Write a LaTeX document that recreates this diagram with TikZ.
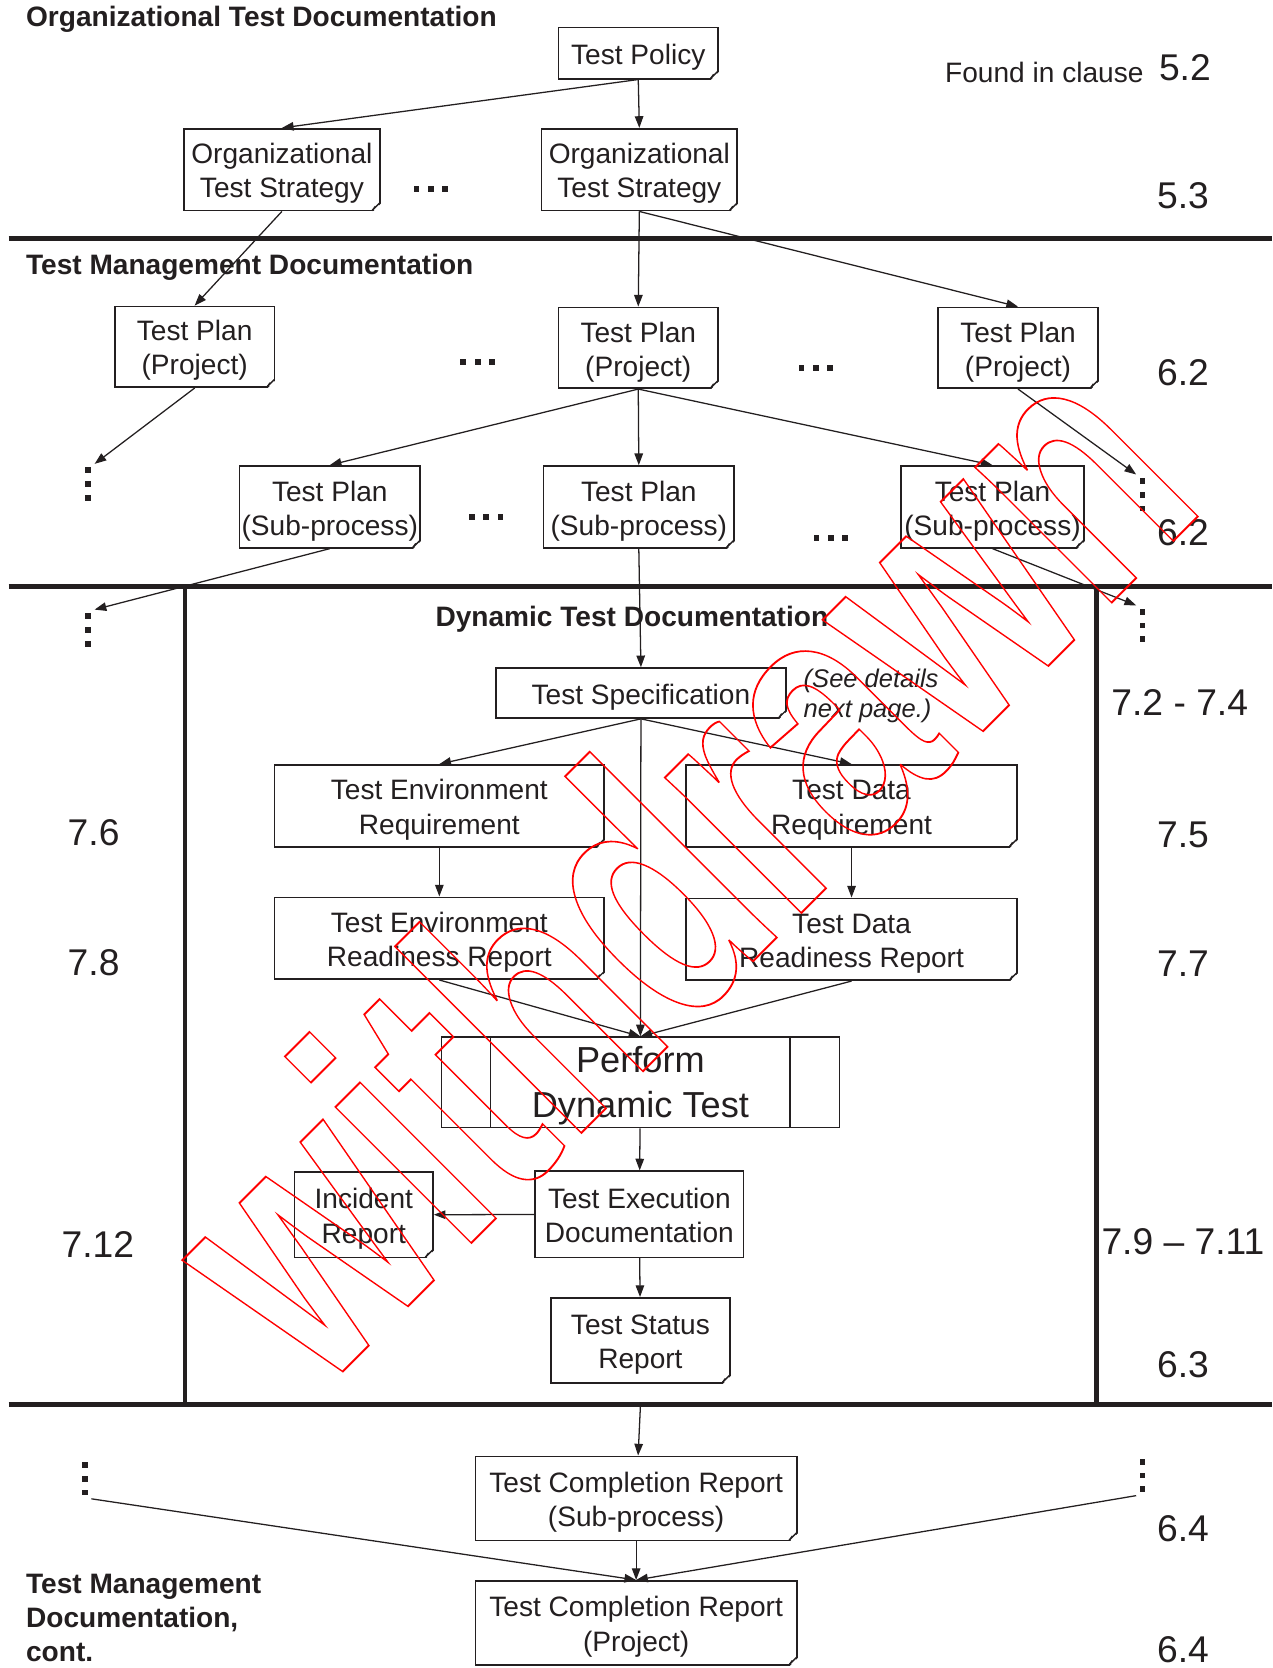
\documentclass[tikz,border=0pt]{standalone}
\usepackage{fontspec}
\setmainfont{Liberation Sans}
\usepackage{xcolor}
\definecolor{ink}{RGB}{35,31,32}
\definecolor{stampred}{RGB}{255,0,0}
\usetikzlibrary{arrows.meta,positioning}
\newcommand{\docfont}{\fontsize{26.4}{32}\selectfont}
\newcommand{\dotsq}{\rule{5.5pt}{5.5pt}}
\newcommand{\hdotrow}{\dotsq\hspace{8pt}\dotsq\hspace{8pt}\dotsq}
\newcommand{\vdotcol}{\dotsq\\\dotsq\\\dotsq}

\begin{document}
\begin{tikzpicture}[
  x=1pt, y=-1pt,
  box/.style={draw=ink, line width=1.5pt, text=ink, font=\docfont, align=center, inner sep=2pt, minimum height=77pt,
    text height=60pt, text depth=7pt},
  oneline/.style={text height=28pt},
  arrow/.style={-{Triangle[length=11pt,width=8pt]}, line width=1.2pt, color=ink},
  sepline/.style={line width=4.5pt, color=ink},
  heading/.style={font=\fontsize{26.4}{32}\selectfont\bfseries, text=ink, align=left},
  clause/.style={font=\fontsize{35}{40}\selectfont, text=ink},
  hdots/.style={font=\fontsize{5.5}{13}\selectfont, text=ink, inner sep=0pt},
  vdots/.style={font=\fontsize{5.5}{13}\selectfont, text=ink, align=center, inner sep=3pt},
  stamp/.style={font=\fontsize{342}{342}\selectfont\bfseries, text=stampred, anchor=base, rotate=45, xscale=0.7}
]
\useasboundingbox (0,0) rectangle (1196,1568);

% section rules
\draw[sepline] (8,224) -- (1196,224);
\draw[sepline] (8,551) -- (1196,551);
\draw[sepline] (8,1320) -- (1196,1320);
\draw[sepline] (174,551) -- (174,1320);
\draw[sepline] (1031,551) -- (1031,1320);

% organizational level
\node[heading, anchor=west] (orgtitle) at (21,18) {Organizational Test Documentation};
\node[box, oneline, minimum width=150pt, minimum height=48pt] (policy) at (600,50) {Test Policy};
\node[box, minimum width=184pt] (stratl) at (265,159.5) {Organizational\\Test Strategy};
\node[box, minimum width=184pt] (stratr) at (601,159.5) {Organizational\\Test Strategy};
\node[hdots] (hda) at (405,178) {\hdotrow};

% test management level
\node[heading, anchor=west] (mgmttitle) at (21,251) {Test Management Documentation};
\node[box, minimum width=150pt, minimum height=76pt] (plana) at (183,326) {Test Plan\\(Project)};
\node[box, minimum width=150pt, minimum height=76pt] (planb) at (600,327) {Test Plan\\(Project)};
\node[box, minimum width=150pt, minimum height=76pt] (planc) at (957,327) {Test Plan\\(Project)};
\node[hdots] (hdb) at (449,340) {\hdotrow};
\node[hdots] (hdc) at (767,346) {\hdotrow};

\node[box, minimum width=170pt] (suba) at (310,476.5) {Test Plan\\(Sub-process)};
\node[box, minimum width=179pt] (subb) at (600.5,476.5) {Test Plan\\(Sub-process)};
\node[box, minimum width=172pt] (subc) at (933,476.5) {Test Plan\\(Sub-process)};
\node[hdots] (hdd) at (457,486) {\hdotrow};
\node[hdots] (hde) at (781,506) {\hdotrow};

\node[vdots] (vdl1) at (83,455) {\vdotcol};
\node[vdots] (vdr1) at (1074,465) {\vdotcol};
\node[vdots] (vdl2) at (83,592) {\vdotcol};
\node[vdots] (vdr2) at (1074,588) {\vdotcol};

% dynamic test level
\node[heading] (dyntitle) at (594,582) {Dynamic Test Documentation};
\node[box, oneline, minimum width=273pt, minimum height=47pt] (spec) at (602.5,651.5) {Test Specification};
\node[text=ink, font=\fontsize{24}{28}\selectfont\itshape, align=left, anchor=west] (seenext) at (752,654) {(See details\\next page.)};
\node[box, minimum width=310pt] (envreq) at (413,757.5) {Test Environment\\Requirement};
\node[box, minimum width=311pt] (datareq) at (800.5,757.5) {Test Data\\Requirement};
\node[box, minimum width=310pt, below=46pt of envreq] (envrdy) {Test Environment\\Readiness Report};
\node[box, minimum width=311pt, below=47pt of datareq] (datardy) {Test Data\\Readiness Report};
\node[box, minimum width=374pt, minimum height=85pt, font=\fontsize{34}{42}\selectfont, text height=73pt] (perform) at (602,1017.5) {Perform\\Dynamic Test};
\draw[ink, line width=1.5pt] ([xshift=47pt]perform.north west) -- ([xshift=47pt]perform.south west);
\draw[ink, line width=1.5pt] ([xshift=-47pt]perform.north east) -- ([xshift=-47pt]perform.south east);
\node[box, minimum width=196pt, minimum height=81pt] (execdoc) at (601,1141.5) {Test Execution\\Documentation};
\node[box, minimum width=130pt, minimum height=80pt] (incident) at (342,1142) {Incident\\Report};
\node[box, minimum width=168pt, minimum height=80pt] (status) at (602,1260) {Test Status\\Report};

% completion reports
\coordinate (rulemid) at (602,1322);
\node[box, minimum width=302pt, minimum height=79pt] (compsub) at (598,1408.5) {Test Completion Report\\(Sub-process)};
\node[box, minimum width=302pt, minimum height=79pt] (compproj) at (598,1525.5) {Test Completion Report\\(Project)};
\node[vdots] (vdl3) at (80,1390) {\vdotcol};
\node[vdots] (vdr3) at (1074,1387) {\vdotcol};
\node[heading, anchor=west] (conttitle) at (21,1521) {Test Management\\Documentation,\\cont.};

% folded corners
\foreach \n in {policy,stratl,stratr,plana,planb,planc,suba,subb,subc,spec,envreq,datareq,envrdy,datardy,incident,status,compsub,compproj}{
  \fill[white] ([xshift=-8pt,yshift=-1pt]\n.south east) -- ([xshift=1pt,yshift=8pt]\n.south east) -- ([xshift=1pt,yshift=-1pt]\n.south east) -- cycle;
  \draw[ink, line width=1.3pt] ([xshift=-8pt,yshift=0.75pt]\n.south east) -- ([xshift=-0.75pt,yshift=8pt]\n.south east);
  \draw[ink, line width=1pt] ([xshift=-8pt,yshift=0.75pt]\n.south east) -- ([xshift=-5pt,yshift=5pt]\n.south east);
}

% clause numbers
\node[font=\fontsize{26.4}{32}\selectfont, text=ink, anchor=base west] (found) at (885,78) {Found in clause};
\node[clause, anchor=base west] (c52) at (1086,76) {5.2};
\node[clause] (c53) at (1112,184) {5.3};
\node[clause] (c62a) at (1112,350) {6.2};
\node[clause] (c62b) at (1112,501) {6.2};
\node[clause] (c72) at (1109,660) {7.2 - 7.4};
\node[clause] (c75) at (1112,785) {7.5};
\node[clause] (c77) at (1112,906) {7.7};
\node[clause] (c79) at (1112,1167) {7.9 -- 7.11};
\node[clause] (c63) at (1112,1283) {6.3};
\node[clause] (c64a) at (1112,1437) {6.4};
\node[clause] (c64b) at (1112,1551) {6.4};
\node[clause] (c76) at (88,783) {7.6};
\node[clause] (c78) at (88,905) {7.8};
\node[clause] (c712) at (92,1170) {7.12};

% connectors
\draw[arrow] (policy.south) -- (stratl.north);
\draw[arrow] (policy.south) -- (stratr.north);
\draw[arrow] (stratl.south) -- (plana.north);
\draw[arrow] (stratr.south) -- (planb.north);
\draw[arrow] (stratr.south) -- (planc.north);
\draw[arrow] (plana.south) -- (vdl1.north east);
\draw[arrow] (planb.south) -- (suba.north);
\draw[arrow] (planb.south) -- (subb.north);
\draw[arrow] (planb.south) -- (subc.north);
\draw[arrow] (planc.south) -- (vdr1.north west);
\draw[arrow] (suba.south) -- (vdl2.north east);
\draw[arrow] (subb.south) -- (spec.north);
\draw[arrow] (subc.south) -- (vdr2.north west);
\draw[arrow] (spec.south) -- (envreq.north);
\draw[arrow] (spec.south) -- (datareq.north);
\draw[arrow] (spec.south) -- (perform.north);
\draw[arrow] (envreq) -- (envrdy);
\draw[arrow] (datareq) -- (datardy);
\draw[arrow] (envrdy.south) -- (perform.north);
\draw[arrow] (datardy.south) -- (perform.north);
\draw[arrow] (perform) -- (execdoc);
\draw[arrow] (execdoc) -- (incident);
\draw[arrow] (execdoc) -- (status);
\draw[arrow] (rulemid) -- (compsub);
\draw[arrow] (compsub) -- (compproj);
\draw[arrow] (vdl3.south east) -- (compproj.north);
\draw[arrow] (vdr3.south west) -- (compproj.north);

% withdrawn stamp
\node[stamp] (withdrawn) at (718,893.5) {\special{pdf:literal direct 1 0 0 RG 1.8 w 1 Tr}withdrawn\special{pdf:literal direct 0 Tr}};
\end{tikzpicture}
\end{document}
